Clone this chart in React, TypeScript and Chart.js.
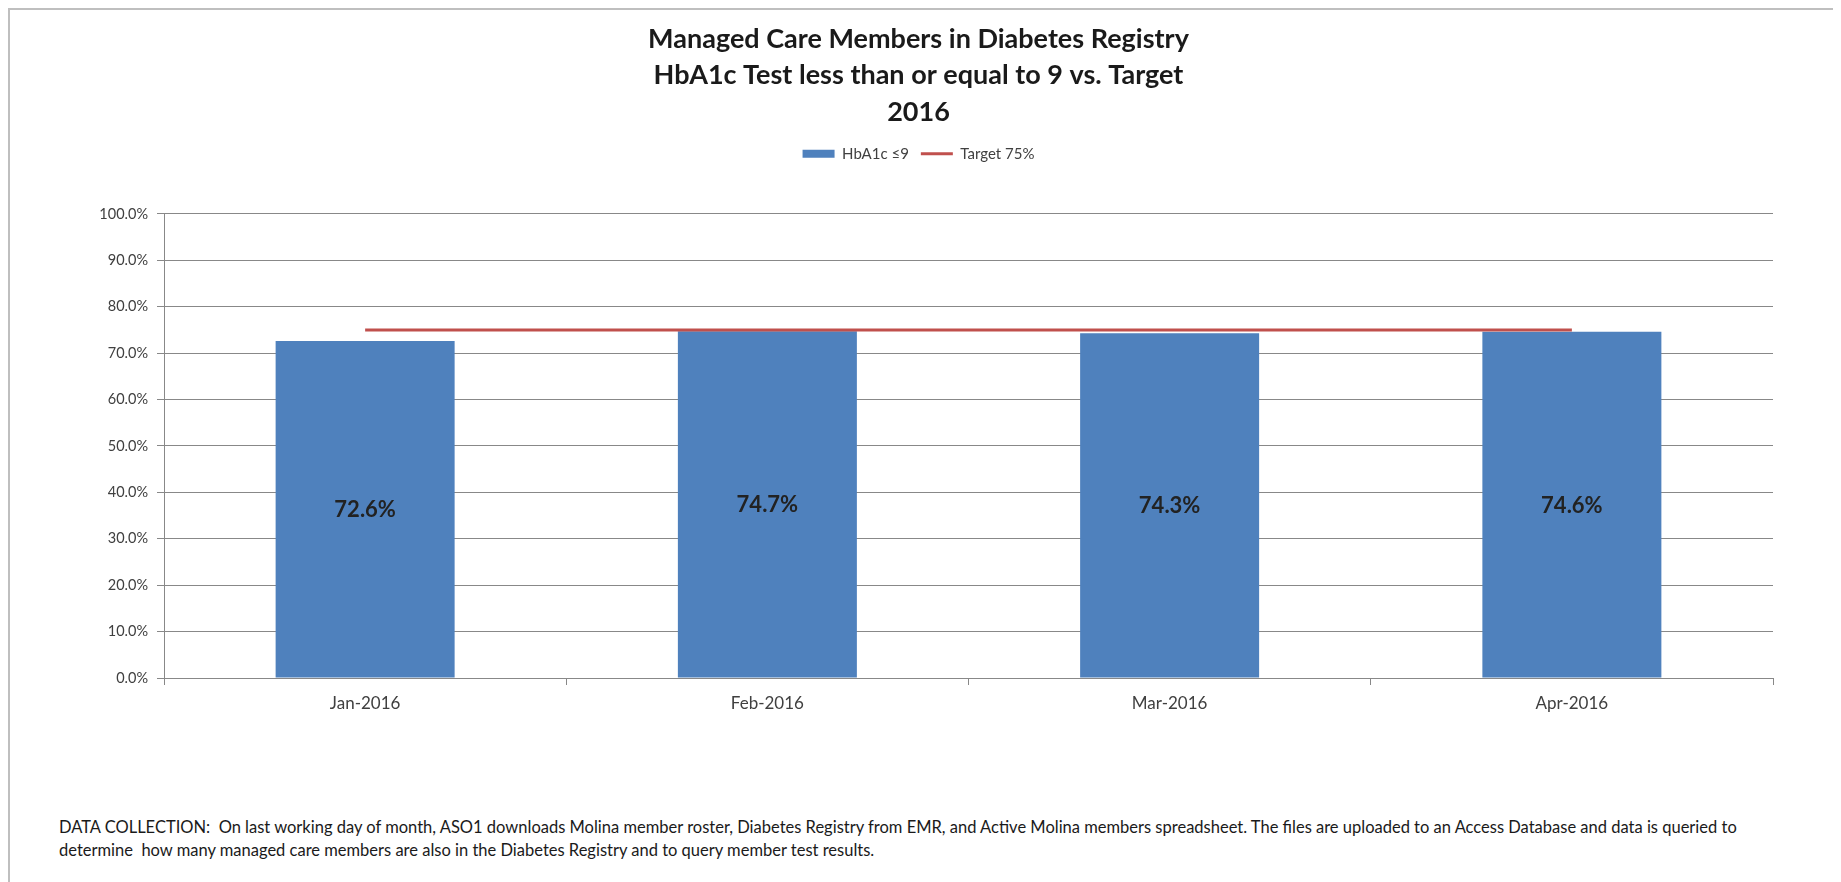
import React, { useEffect, useRef } from "react";
import { Chart, registerables } from "chart.js";

Chart.register(...registerables);

const titleLines = [
  "Managed Care Members in Diabetes Registry",
  "HbA1c Test less than or equal to 9 vs. Target",
  "2016",
];
const categories = ["Jan-2016", "Feb-2016", "Mar-2016", "Apr-2016"];
const seriesNames = ["HbA1c \u22649", "Target 75%"];
const hba1cValues = [72.6, 74.7, 74.3, 74.6];
const targetValues = [75, 75, 75, 75];
const yMin = 0;
const yMax = 100;
const yStep = 10;
const footerLines = [
  "DATA COLLECTION:  On last working day of month, ASO1 downloads Molina member roster, Diabetes Registry from EMR, and Active Molina members spreadsheet. The files are uploaded to an Access Database and data is queried to",
  "determine  how many managed care members are also in the Diabetes Registry and to query member test results.",
];

const FONT = "Lato, 'Noto Sans', sans-serif";

const barLabelPlugin = {
  id: "barLabels",
  afterDatasetsDraw(chart: any) {
    const meta = chart.getDatasetMeta(0);
    const ctx = chart.ctx;
    ctx.save();
    ctx.font = `bold 22px ${FONT}`;
    ctx.fillStyle = "#222222";
    ctx.textAlign = "center";
    ctx.textBaseline = "middle";
    meta.data.forEach((bar: any, i: number) => {
      const { x, y, base } = bar.getProps(["x", "y", "base"], true);
      ctx.fillText(hba1cValues[i].toFixed(1) + "%", x, (y + base) / 2 + 1);
    });
    ctx.restore();
  },
};

const legendSpacer = {
  id: "legendSpacer",
  beforeInit(chart: any) {
    const origFit = chart.legend.fit;
    chart.legend.fit = function fit() {
      origFit.bind(chart.legend)();
      this.height += 42.5;
    };
  },
};

export default function App() {
  const canvasRef = useRef<HTMLCanvasElement | null>(null);

  useEffect(() => {
    document.body.style.overflow = "hidden";
    const canvas = canvasRef.current;
    if (!canvas) return;
    const chart = new Chart(canvas, {
      type: "bar",
      data: {
        labels: categories,
        datasets: [
          {
            type: "bar",
            label: seriesNames[0],
            data: hba1cValues,
            backgroundColor: "#4F81BD",
            borderWidth: 0,
            categoryPercentage: 1,
            barPercentage: 0.445,
            order: 1,
          },
          {
            type: "line",
            label: seriesNames[1],
            data: targetValues,
            borderColor: "#C0504D",
            backgroundColor: "#C0504D",
            borderWidth: 3,
            pointRadius: 0,
            fill: false,
            order: 0,
          },
        ] as any,
      },
      plugins: [barLabelPlugin, legendSpacer],
      options: {
        animation: false,
        responsive: false,
        layout: { padding: { left: 54, right: 64, top: 0, bottom: 62 } },
        plugins: {
          title: {
            display: true,
            text: titleLines,
            color: "#1a1a1a",
            font: { family: FONT, size: 27, weight: "bold", lineHeight: 1.35 },
            padding: { top: 10.75, bottom: 4.25 },
          },
          legend: {
            display: true,
            position: "top",
            labels: {
              color: "#404040",
              font: { family: FONT, size: 15 },
              usePointStyle: true,
              pointStyleWidth: 32,
              boxHeight: 8,
              padding: 12,
              sort: (a: any, b: any) => a.datasetIndex - b.datasetIndex,
              generateLabels: (chart: any) => {
                const items = Chart.defaults.plugins.legend.labels.generateLabels(chart);
                return items.map((it: any) => {
                  if (it.datasetIndex === 0) {
                    return { ...it, pointStyle: "rect", fillStyle: "#4F81BD", strokeStyle: "#4F81BD", lineWidth: 0 };
                  }
                  return { ...it, pointStyle: "line", fillStyle: "#C0504D", strokeStyle: "#C0504D", lineWidth: 3 };
                });
              },
            },
          },
          tooltip: { enabled: false },
        },
        scales: {
          x: {
            offset: true,
            grid: {
              display: true,
              offset: true,
              drawOnChartArea: false,
              drawTicks: true,
              tickLength: 7,
              color: "#888888",
            },
            border: { display: true, color: "#888888", width: 1 },
            ticks: {
              color: "#404040",
              font: { family: FONT, size: 17 },
              padding: 8,
              maxRotation: 0,
            },
            afterFit: (s: any) => {
              s.height = 60;
            },
          },
          y: {
            min: yMin,
            max: yMax,
            grid: {
              color: "#888888",
              drawTicks: true,
              tickLength: 7,
            },
            border: { display: true, color: "#888888", width: 1 },
            ticks: {
              stepSize: yStep,
              color: "#404040",
              font: { family: FONT, size: 14.5 },
              padding: 9,
              callback: (v: any) => Number(v).toFixed(1) + "%",
            },
            afterFit: (s: any) => {
              s.width = 100;
            },
          },
        },
      } as any,
    });
    return () => chart.destroy();
  }, []);

  return (
    <div
      style={{
        width: 1831,
        height: 900,
        boxSizing: "border-box",
        border: "2px solid #BFBFBF",
        position: "relative",
        background: "#fff",
      }}
    >
      <canvas ref={canvasRef} width={1827} height={790} style={{ display: "block" }} />
      <div
        style={{
          position: "absolute",
          left: 49,
          top: 806,
          fontFamily: FONT,
          fontSize: 16.5,
          lineHeight: "23px",
          color: "#1a1a1a",
          whiteSpace: "pre",
        }}
      >
        {footerLines[0]}
        {"\n"}
        {footerLines[1]}
      </div>
    </div>
  );
}
